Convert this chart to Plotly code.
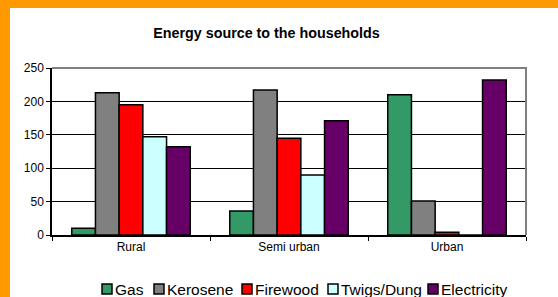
import plotly.graph_objects as go

categories = ["Rural", "Semi urban", "Urban"]
series_names = ["Gas", "Kerosene", "Firewood", "Twigs/Dung", "Electricity"]
gas = [10, 36, 210]
kerosene = [213, 217, 51]
firewood = [195, 145, 4]
twigs_dung = [147, 90, 0]
electricity = [132, 171, 232]
y_ticks = [0, 50, 100, 150, 200, 250]

values = [gas, kerosene, firewood, twigs_dung, electricity]
colors = ["#339966", "#808080", "#FF0000", "#CCFFFF", "#660066"]

fig = go.Figure()
for name, vals, col in zip(series_names, values, colors):
    fig.add_trace(go.Bar(
        x=categories, y=vals, name=name,
        marker=dict(color=col, line=dict(color="black", width=1.5)),
    ))

W, H = 558, 297
L, R, T, B = 52, 32, 68, 62
pw, ph = W - L - R, H - T - B

def px_x(x):
    return (x - L) / pw

def px_y(y):
    return (H - B - y) / ph

# manual legend (squares + text), laid out like the original
legend_x = [102, 154, 242, 328, 428]
legend_y = 289
sq = 10
shapes = [
    dict(type="path", xref="paper", yref="paper",
         path="M 0 1 L 1 1 L 1 0", line=dict(color="#808080", width=2), layer="above"),
    dict(type="rect", xref="paper", yref="paper",
         x0=px_x(0), x1=px_x(10), y0=px_y(0), y1=px_y(H),
         fillcolor="#FF9900", line=dict(width=0), layer="above"),
    dict(type="rect", xref="paper", yref="paper",
         x0=px_x(0), x1=px_x(W), y0=px_y(0), y1=px_y(8),
         fillcolor="#FF9900", line=dict(width=0), layer="above"),
]
annotations = []
for name, col, lx in zip(series_names, colors, legend_x):
    shapes.append(dict(type="rect", xref="paper", yref="paper",
                       x0=px_x(lx), x1=px_x(lx + sq),
                       y0=px_y(legend_y + sq / 2), y1=px_y(legend_y - sq / 2),
                       fillcolor=col, line=dict(color="black", width=1.5), layer="above"))
    annotations.append(dict(text=name, xref="paper", yref="paper",
                            x=px_x(lx + sq + 1), y=px_y(legend_y + 0.5),
                            xanchor="left", yanchor="middle", showarrow=False,
                            font=dict(size=15.5, color="black")))

fig.update_layout(
    width=W, height=H,
    margin=dict(l=L, r=R, t=T, b=B),
    paper_bgcolor="white", plot_bgcolor="white",
    barmode="group", bargap=0.25, bargroupgap=0,
    font=dict(family="Liberation Sans, Arial, sans-serif", color="black", size=12),
    title=dict(text="<b>Energy source to the households</b>", x=266.5 / W, xref="container",
               xanchor="center", y=1 - 33 / H, yref="container", yanchor="middle",
               font=dict(size=14.3, color="black")),
    showlegend=False,
    hovermode=False,
    xaxis=dict(showline=True, linecolor="black", linewidth=1.5,
               ticks="outside", tickson="boundaries", ticklen=4, tickcolor="black",
               tickfont=dict(size=12)),
    yaxis=dict(range=[0, 250], tickvals=y_ticks, showline=True, linecolor="black",
               linewidth=1.5, ticks="outside", ticklen=4, tickcolor="black",
               showgrid=True, gridcolor="black", gridwidth=1, zeroline=False,
               tickfont=dict(size=12)),
    shapes=shapes,
    annotations=annotations,
)

fig.write_html("out.html", config={"displayModeBar": False},
               post_script="document.body.style.margin='0';document.body.style.overflow='hidden';")
